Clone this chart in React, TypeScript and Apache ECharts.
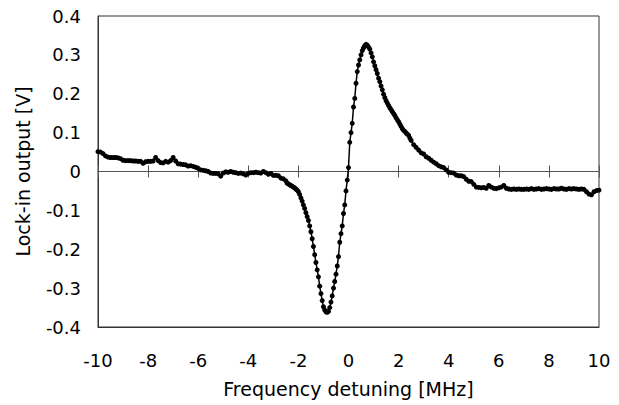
import React, { useEffect, useRef } from "react";
import * as echarts from "echarts";

const xValues: number[] = [
  -10.0, -9.9, -9.8, -9.7, -9.6, -9.5, -9.4, -9.3, -9.2, -9.1,
  -9.0, -8.9, -8.8, -8.7, -8.6, -8.5, -8.4, -8.3, -8.2, -8.1,
  -8.0, -7.9, -7.8, -7.7, -7.6, -7.5, -7.4, -7.3, -7.2, -7.1,
  -7.0, -6.9, -6.8, -6.7, -6.6, -6.5, -6.4, -6.3, -6.2, -6.1,
  -6.0, -5.9, -5.8, -5.7, -5.6, -5.5, -5.4, -5.3, -5.2, -5.1,
  -5.0, -4.9, -4.8, -4.7, -4.6, -4.5, -4.4, -4.3, -4.2, -4.1,
  -4.0, -3.9, -3.8, -3.7, -3.6, -3.5, -3.4, -3.3, -3.2, -3.1,
  -3.0, -2.9, -2.8, -2.7, -2.6, -2.5,
  -2.45, -2.4, -2.35, -2.3, -2.25, -2.2, -2.15, -2.1, -2.05, -2.0,
  -1.95, -1.9, -1.85, -1.8, -1.75, -1.7, -1.65, -1.6, -1.55, -1.5,
  -1.45, -1.4, -1.35, -1.3, -1.25, -1.2, -1.15, -1.1, -1.05, -1.0,
  -0.95, -0.9, -0.85, -0.8, -0.75, -0.7, -0.65, -0.6, -0.55, -0.5,
  -0.45, -0.4, -0.35, -0.3, -0.25, -0.2, -0.15, -0.1, -0.05, 0.0,
  0.05, 0.1, 0.15, 0.2, 0.25, 0.3, 0.35, 0.4, 0.45, 0.5,
  0.55, 0.6, 0.65, 0.7, 0.75, 0.8, 0.85, 0.9, 0.95, 1.0,
  1.05, 1.1, 1.15, 1.2, 1.25, 1.3, 1.35, 1.4, 1.45, 1.5,
  1.55, 1.6, 1.65, 1.7, 1.75, 1.8, 1.85, 1.9, 1.95, 2.0,
  2.05, 2.1, 2.15, 2.2, 2.25, 2.3, 2.35, 2.4, 2.45, 2.5,
  2.6, 2.7, 2.8, 2.9, 3.0, 3.1, 3.2, 3.3, 3.4, 3.5,
  3.6, 3.7, 3.8, 3.9, 4.0, 4.1, 4.2, 4.3, 4.4, 4.5,
  4.6, 4.7, 4.8, 4.9, 5.0, 5.1, 5.2, 5.3, 5.4, 5.5,
  5.6, 5.7, 5.8, 5.9, 6.0, 6.1, 6.2, 6.3, 6.4, 6.5,
  6.6, 6.7, 6.8, 6.9, 7.0, 7.1, 7.2, 7.3, 7.4, 7.5,
  7.6, 7.7, 7.8, 7.9, 8.0, 8.1, 8.2, 8.3, 8.4, 8.5,
  8.6, 8.7, 8.8, 8.9, 9.0, 9.1, 9.2, 9.3, 9.4, 9.5,
  9.6, 9.7, 9.8, 9.9, 10.0,
];

const lockInValues: number[] = [
  0.051, 0.05, 0.046, 0.04, 0.037, 0.036, 0.036, 0.036, 0.035, 0.033,
  0.029, 0.028, 0.028, 0.028, 0.027, 0.027, 0.026, 0.026, 0.021, 0.025,
  0.026, 0.026, 0.027, 0.036, 0.028, 0.023, 0.022, 0.026, 0.024, 0.028,
  0.036, 0.027, 0.02, 0.019, 0.018, 0.017, 0.014, 0.015, 0.013, 0.011,
  0.008, 0.004, 0.003, 0.002, 0.0, -0.004, -0.005, -0.005, -0.006, -0.012,
  -0.004, -0.001, -0.002, 0.0, -0.002, -0.003, -0.005, -0.004, -0.006, -0.009,
  -0.005, -0.003, -0.003, -0.002, -0.003, -0.004, 0.0, -0.003, -0.007, -0.005,
  -0.01, -0.01, -0.011, -0.017, -0.019, -0.024,
  -0.03, -0.032, -0.034, -0.036, -0.038, -0.04, -0.042, -0.045, -0.048, -0.052,
  -0.059, -0.068, -0.076, -0.086, -0.095, -0.106, -0.116, -0.126, -0.14, -0.155,
  -0.173, -0.193, -0.214, -0.234, -0.253, -0.271, -0.295, -0.314, -0.332, -0.348,
  -0.356, -0.361, -0.362, -0.36, -0.35, -0.336, -0.32, -0.3, -0.283, -0.264,
  -0.243, -0.219, -0.182, -0.16, -0.14, -0.108, -0.086, -0.05, -0.022, 0.01,
  0.075, 0.1, 0.124, 0.166, 0.188, 0.227, 0.257, 0.274, 0.287, 0.3,
  0.311, 0.318, 0.324, 0.327, 0.325, 0.32, 0.315, 0.305, 0.295, 0.282,
  0.272, 0.262, 0.252, 0.24, 0.231, 0.22, 0.21, 0.199, 0.19, 0.182,
  0.176, 0.17, 0.164, 0.159, 0.154, 0.149, 0.144, 0.138, 0.133, 0.128,
  0.122, 0.116, 0.11, 0.106, 0.103, 0.099, 0.096, 0.093, 0.086, 0.08,
  0.069, 0.062, 0.055, 0.048, 0.045, 0.038, 0.034, 0.029, 0.024, 0.02,
  0.015, 0.012, 0.01, 0.004, -0.002, -0.003, -0.004, -0.009, -0.011, -0.011,
  -0.013, -0.02, -0.025, -0.026, -0.033, -0.04, -0.041, -0.042, -0.041, -0.043,
  -0.036, -0.04, -0.043, -0.044, -0.042, -0.04, -0.036, -0.043, -0.045, -0.046,
  -0.045, -0.046, -0.045, -0.046, -0.046, -0.045, -0.046, -0.044, -0.046, -0.045,
  -0.044, -0.046, -0.045, -0.044, -0.045, -0.046, -0.044, -0.045, -0.045, -0.043,
  -0.045, -0.046, -0.044, -0.045, -0.044, -0.045, -0.046, -0.045, -0.046, -0.052,
  -0.058, -0.06, -0.052, -0.049, -0.048,
];

const xTickLabels: string[] = ["-10", "-8", "-6", "-4", "-2", "0", "2", "4", "6", "8", "10"];
const yTickLabels: string[] = ["-0.4", "-0.3", "-0.2", "-0.1", "0", "0.1", "0.2", "0.3", "0.4"];

const FONT = "'DejaVu Sans', 'Liberation Sans', Arial, sans-serif";

export default function App() {
  const ref = useRef<HTMLDivElement>(null);

  useEffect(() => {
    if (!ref.current) return;
    const chart = echarts.init(ref.current, undefined, { renderer: "svg" });
    const data = xValues.map((x, i) => [x, lockInValues[i]]);
    const xLabel = (v: number) => xTickLabels[Math.round((v + 10) / 2)] ?? String(v);
    const yLabel = (v: number) => yTickLabels[Math.round((v + 0.4) / 0.1)] ?? String(v);

    const zeroAxisBase = {
      type: "value",
      min: -10,
      max: 10,
      interval: 2,
      axisLabel: { show: false },
      splitLine: { show: false },
    };

    chart.setOption({
      animation: false,
      backgroundColor: "#ffffff",
      grid: {
        left: 98,
        right: 20,
        top: 16,
        bottom: 78,
        show: true,
        borderColor: "#333333",
        borderWidth: 1,
        backgroundColor: "transparent",
      },
      xAxis: [
        {
          type: "value",
          min: -10,
          max: 10,
          interval: 2,
          position: "bottom",
          axisLine: { show: true, onZero: false, lineStyle: { color: "#333333", width: 1 } },
          axisTick: { show: false },
          splitLine: { show: false },
          axisLabel: {
            formatter: xLabel,
            fontSize: 18,
            fontFamily: FONT,
            color: "#000000",
            margin: 24,
          },
          name: "Frequency detuning [MHz]",
          nameLocation: "middle",
          nameGap: 52,
          nameTextStyle: { fontSize: 19, fontFamily: FONT, color: "#000000" },
        },
        {
          ...zeroAxisBase,
          position: "top",
          axisLine: { show: true, onZero: true, onZeroAxisIndex: 0, lineStyle: { color: "#555555", width: 1 } },
          axisTick: { show: true, length: 6, lineStyle: { color: "#555555", width: 1 } },
        },
        {
          ...zeroAxisBase,
          position: "bottom",
          axisLine: { show: true, onZero: true, onZeroAxisIndex: 0, lineStyle: { color: "#555555", width: 1 } },
          axisTick: { show: true, length: 6, lineStyle: { color: "#555555", width: 1 } },
        },
      ],
      yAxis: {
        type: "value",
        min: -0.4,
        max: 0.4,
        interval: 0.1,
        axisLine: { show: true, onZero: false, lineStyle: { color: "#333333", width: 1 } },
        axisTick: { show: false },
        splitLine: { show: false },
        axisLabel: {
          formatter: yLabel,
          fontSize: 18,
          fontFamily: FONT,
          color: "#000000",
          margin: 17,
        },
        name: "Lock-in output [V]",
        nameLocation: "middle",
        nameGap: 66,
        nameTextStyle: { fontSize: 19, fontFamily: FONT, color: "#000000" },
      },
      series: [
        {
          type: "line",
          xAxisIndex: 0,
          yAxisIndex: 0,
          data,
          symbol: "circle",
          symbolSize: 5,
          showSymbol: true,
          showAllSymbol: true,
          itemStyle: { color: "#000000" },
          lineStyle: { color: "#000000", width: 1.5 },
          z: 5,
        },
      ],
    });

    return () => chart.dispose();
  }, []);

  return (
    <div
      ref={ref}
      style={{ position: "absolute", left: 0, top: 0, width: 619, height: 405, background: "#fff" }}
    />
  );
}
